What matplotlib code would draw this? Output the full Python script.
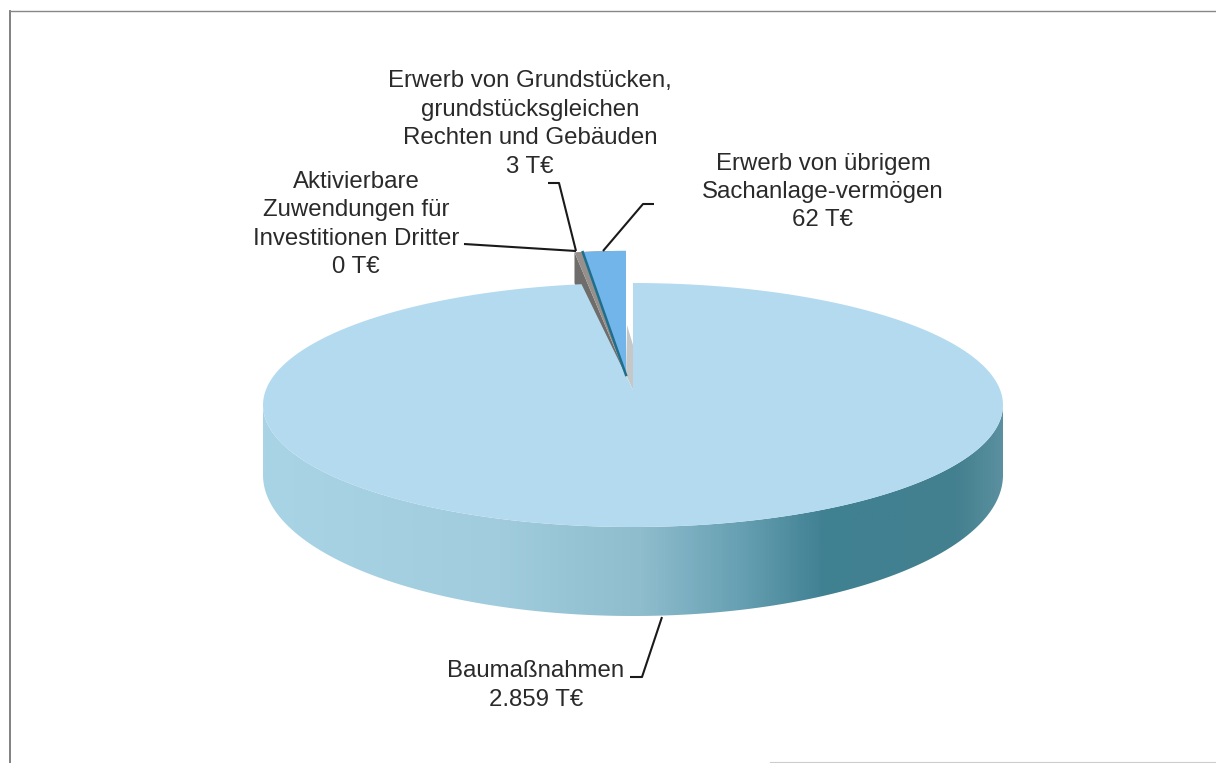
import numpy as np
import matplotlib.pyplot as plt
from matplotlib.colors import LinearSegmentedColormap
from matplotlib.patches import Polygon

plt.rcParams['font.family'] = ['Liberation Sans', 'DejaVu Sans']

# data, clockwise from 12 o'clock
names = ["Baumaßnahmen",
         "Aktivierbare\nZuwendungen für\nInvestitionen Dritter",
         "Erwerb von Grundstücken,\ngrundstücksgleichen\nRechten und Gebäuden",
         "Erwerb von übrigem\nSachanlage-vermögen"]
values = [2859, 0, 3, 62]
value_labels = ["2.859 T€", "0 T€", "3 T€", "62 T€"]

# pie geometry in pixels
cx, cy = 633, 405
rx, ry = 370, 122
apex = np.array([633.0, 390.0])
depth_side, depth_front = 70, 89


def angle_of(i):
    return np.cumsum([0] + values)[i] / sum(values) * 360


def rim(theta):
    t = np.radians(theta)
    return np.column_stack([cx + rx * np.sin(t), cy - ry * np.cos(t)])


def wedge(t1, t2, dx=0, dy=0, sx=1.0, sy=1.0):
    pts = rim(np.linspace(t1, t2, 200))
    pts = apex + (pts - apex) * [sx, sy] + [dx, dy]
    return np.vstack([apex + [dx, dy], pts])


fig = plt.figure(figsize=(12.16, 7.63), dpi=100)
ax = fig.add_axes([0, 0, 1, 1])

# side wall with horizontal shading
th = np.linspace(90, 270, 300)
top = rim(th)
bottom = top + np.column_stack([np.zeros(300), depth_side + (depth_front - depth_side) * np.abs(np.cos(np.radians(th)))])
wall = Polygon(np.vstack([top, bottom[::-1]]), closed=True, fc='none', ec='none')
ax.add_patch(wall)
cmap = LinearSegmentedColormap.from_list("wall", [
    (0.00, '#a8d4e5'), (0.32, '#a0ccdd'), (0.51, '#8fbdce'), (0.65, '#659fb1'),
    (0.76, '#3f8092'), (0.94, '#44808f'), (1.00, '#5a909f')])
im = ax.imshow(np.linspace(0, 1, 512).reshape(1, -1), cmap=cmap, aspect='auto',
               extent=(cx - rx, cx + rx, 640, 380), zorder=1)
im.set_clip_path(wall)

# cut walls behind the main slice
ang_main = angle_of(1)
ang_grey = angle_of(3)
ex = (-7, -15)
grey_edge = wedge(ang_main, ang_main, ex[0], ex[1], 1.0, 1.16)[[0, -1]]
ax.add_patch(Polygon(np.vstack([grey_edge, grey_edge[::-1] + [0, 31]]), fc='#6f6d6b', ec='none', zorder=2))

# light grey wall seen through the gap
ax.add_patch(Polygon(np.vstack([apex, apex + [0, -45], apex + [-6, -65], apex + [-7, -15]]),
                     fc='#c4c8c9', ec='none', zorder=2))

# main slice top
ax.add_patch(Polygon(wedge(0, ang_main), fc='#b4daf0', ec='none', zorder=3))

# exploded slices
ax.add_patch(Polygon(wedge(ang_main, 360, ex[0], ex[1], 1.0, 1.16), fc='#96908c', ec='none', zorder=4))
blue = wedge(ang_grey, 360, ex[0], ex[1], 0.88, 1.16)
ax.add_patch(Polygon(blue, fc='#72b5ea', ec='none', zorder=5))
ax.plot([blue[0, 0], blue[1, 0]], [blue[0, 1], blue[1, 1]], color='#1f6f8c', lw=1.8, zorder=6)

# leader lines
leaders = [([662, 642, 630], [617, 677, 677]),
           ([464, 576], [244, 251]),
           ([548, 559, 576], [183, 183, 251]),
           ([603, 643, 654], [251, 204, 204])]
for lx, ly in leaders:
    ax.plot(lx, ly, color='#1a1a1a', lw=1.5, zorder=7, solid_capstyle='butt')

# labels
label_x = [536, 356, 530, 823]
label_y = [685.5, 224.5, 124, 192]
for name, val, x, y in zip(names, value_labels, label_x, label_y):
    ax.text(x, y, name + "\n" + val, ha='center', va='center', fontsize=17.3,
            color='#2a2a2a', linespacing=1.38, zorder=8)

# scanned frame
ax.plot([10, 10], [763, 11], color='#777777', lw=1.3)
ax.plot([10, 1216], [11, 11], color='#888888', lw=1.0)
ax.plot([770, 1216], [762, 762], color='#cccccc', lw=0.8)

ax.set_xlim(0, 1216)
ax.set_ylim(763, 0)
ax.axis('off')

fig.savefig("out.png", dpi=100)
